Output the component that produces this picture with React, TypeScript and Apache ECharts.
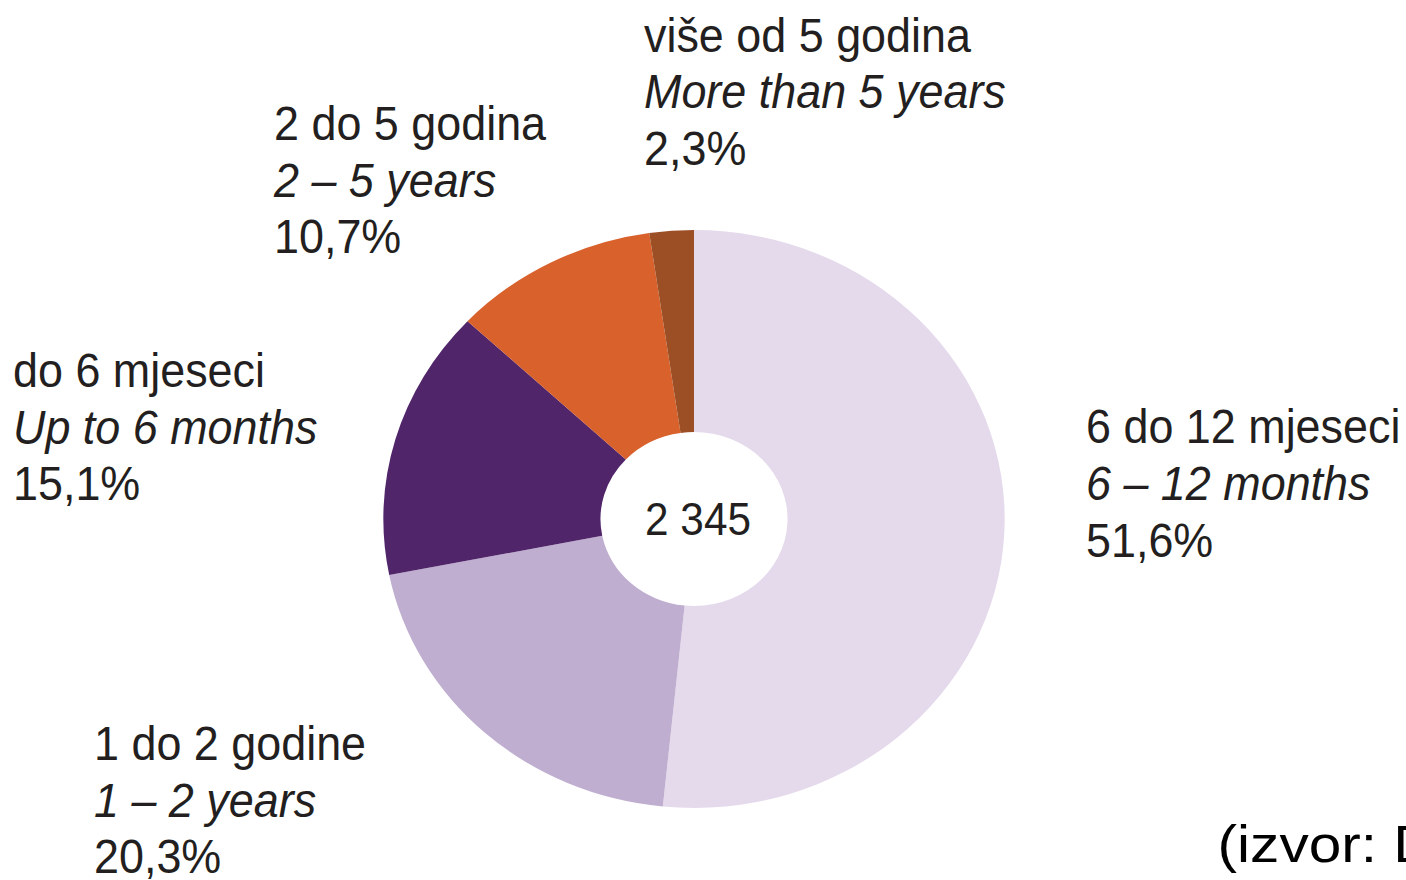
import React, { useEffect, useRef } from "react";
import * as echarts from "echarts";

// ---- data ----
const categoriesHr = ["6 do 12 mjeseci", "1 do 2 godine", "do 6 mjeseci", "2 do 5 godina", "više od 5 godina"];
const categoriesEn = ["6 – 12 months", "1 – 2 years", "Up to 6 months", "2 – 5 years", "More than 5 years"];
const shares = [51.6, 20.3, 15.1, 10.7, 2.3];
const sliceColors = ["#E5DAEC", "#BFAED0", "#512569", "#D9612C", "#9C4F25"];
const totalCount = 2345;
const sourceText = "(izvor: DZS)";

// ---- layout (reference pixel coords: left x, first baseline) ----
const SX = 1.075; // horizontal stretch of the whole picture
const labelAnchors = [
  [1086, 443.3],
  [94, 760],
  [13, 387],
  [274, 140],
  [644, 51.7],
];
const LINE_PITCH = 56.7;
const FONT = 48;
const TEXT_SCALE = 0.935 / SX;
const FAMILY = "'Liberation Sans', Arial, Helvetica, sans-serif";
const TEXT_COLOR = "#231F20";

const fmtPct = (v: number) => v.toFixed(1).replace(".", ",") + "%";
const fmtCount = (n: number) => String(n).replace(/\B(?=(\d{3})+(?!\d))/g, " ");

export default function App() {
  const ref = useRef<HTMLDivElement>(null);

  useEffect(() => {
    if (!ref.current) return;
    const chart = echarts.init(ref.current, undefined, { renderer: "svg" });

    const central = 0.3465 * FONT;
    const graphics: any[] = [];
    shares.forEach((v, i) => {
      const [lx, b0] = labelAnchors[i];
      const lines = [categoriesHr[i], categoriesEn[i], fmtPct(v)];
      lines.forEach((t, j) => {
        graphics.push({
          type: "text",
          x: lx / SX,
          y: b0 + j * LINE_PITCH - central,
          scaleX: TEXT_SCALE,
          silent: true,
          style: {
            text: t,
            fill: TEXT_COLOR,
            font: `${j === 1 ? "italic " : ""}${FONT}px ${FAMILY}`,
            align: "left",
            verticalAlign: "middle",
          },
        });
      });
    });
    graphics.push({
      type: "text",
      x: 698 / SX,
      y: 535 - 0.3465 * 47,
      scaleX: 0.9 / SX,
      silent: true,
      style: {
        text: fmtCount(totalCount),
        fill: TEXT_COLOR,
        font: `47px ${FAMILY}`,
        align: "center",
        verticalAlign: "middle",
      },
    });
    graphics.push({
      type: "text",
      x: 1217.6 / SX,
      y: 862 - 0.3465 * 52,
      scaleX: 1.127 / SX,
      silent: true,
      style: {
        text: sourceText,
        fill: "#000000",
        font: `52px ${FAMILY}`,
        align: "left",
        verticalAlign: "middle",
      },
    });

    chart.setOption({
      animation: false,
      backgroundColor: "#ffffff",
      series: [
        {
          type: "pie",
          center: [694 / SX, 519],
          radius: [87, 289],
          startAngle: 90,
          clockwise: true,
          silent: true,
          label: { show: false },
          labelLine: { show: false },
          itemStyle: { borderWidth: 0 },
          data: shares.map((v, i) => ({
            name: categoriesHr[i],
            value: v,
            itemStyle: { color: sliceColors[i] },
          })),
        },
      ],
      graphic: graphics,
    });

    return () => chart.dispose();
  }, []);

  return (
    <div
      ref={ref}
      style={{
        position: "absolute",
        left: 0,
        top: 0,
        width: 1406 / SX,
        height: 880,
        transform: `scaleX(${SX})`,
        transformOrigin: "0 0",
      }}
    />
  );
}
